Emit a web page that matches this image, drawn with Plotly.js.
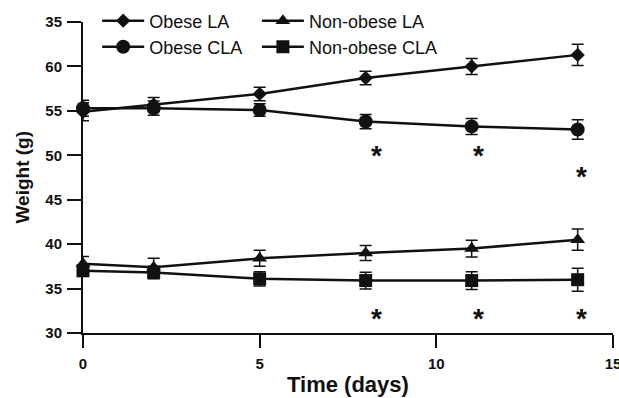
<!DOCTYPE html>
<html>
<head>
<meta charset="utf-8">
<script src="https://cdn.plot.ly/plotly-3.0.1.min.js"></script>
<style>html,body{margin:0;padding:0;background:#fff;}#chart{width:619px;height:398px;}</style>
</head>
<body>
<div id="chart"></div>
<script>
// ---- data ----
const days = [0, 2, 5, 8, 11, 14];

const obeseLA     = [54.9, 55.7, 56.9, 58.7, 60.0, 61.3];
const obeseLAErr  = [1.0, 0.8, 0.75, 0.75, 0.9, 1.2];

const obeseCLA    = [55.3, 55.3, 55.1, 53.8, 53.25, 52.9];
const obeseCLAErr = [0.9, 0.8, 0.7, 0.8, 0.9, 1.1];

const nonObeseLA    = [37.8, 37.4, 38.4, 39.0, 39.5, 40.5];
const nonObeseLAErr = [0.8, 1.0, 0.9, 0.85, 0.95, 1.2];

const nonObeseCLA    = [37.0, 36.8, 36.1, 35.9, 35.9, 36.0];
const nonObeseCLAErr = [0.6, 0.7, 0.8, 0.95, 1.0, 1.3];

const starX = [8.3, 11.2, 14.1, 8.3, 11.2, 14.1];
const starY = [50.4, 50.4, 48.1, 32.1, 32.1, 32.1];

const yTickVals = [30, 35, 40, 45, 50, 55, 60, 65];
const yTickText = ['30', '35', '40', '45', '50', '55', '60', '35'];
const xTickVals = [0, 5, 10, 15];
const xTickText = ['0', '5', '10', '15'];

const names = ['Obese LA', 'Obese CLA', 'Non-obese LA', 'Non-obese CLA'];
const xTitle = 'Time (days)';
const yTitle = 'Weight (g)';
// --------------------------------------

const INK = '#111111';
const FONT = 'Liberation Sans, Arial, sans-serif';
function series(name, y, err, symbol, size, legend) {
  return {
    type: 'scatter', mode: 'lines+markers', name: name, x: days, y: y,
    legend: legend,
    line: {color: INK, width: 2.5},
    marker: {symbol: symbol, size: size, color: INK},
    error_y: {type: 'data', array: err, visible: true, color: INK, thickness: 1.5, width: 6},
    cliponaxis: false
  };
}

const traces = [
  series(names[0], obeseLA, obeseLAErr, 'diamond', 11, 'legend'),
  series(names[1], obeseCLA, obeseCLAErr, 'circle', 14, 'legend2'),
  series(names[2], nonObeseLA, nonObeseLAErr, 'triangle-up', 13, 'legend3'),
  series(names[3], nonObeseCLA, nonObeseCLAErr, 'square', 13, 'legend4')
];

const starNotes = starX.map((x, i) => ({
  x: x, y: starY[i], xref: 'x', yref: 'y', text: '<b>*</b>', showarrow: false,
  font: {family: FONT, size: 28, color: INK}, yshift: -4
}));

const legFont = {family: FONT, size: 18, color: INK};
function leg(x, y) {
  return {x: x, y: y, xref: 'container', yref: 'container', xanchor: 'left', yanchor: 'middle',
          bgcolor: 'rgba(0,0,0,0)', borderwidth: 0, font: legFont, itemwidth: 42};
}

const layout = {
  width: 619, height: 398,
  margin: {l: 83, r: 6, t: 22, b: 65, autoexpand: false},
  paper_bgcolor: '#fff', plot_bgcolor: '#fff',
  font: {family: FONT, color: INK},
  xaxis: {
    range: [0, 15], tickvals: xTickVals, ticktext: xTickText,
    showgrid: false, zeroline: false, showline: true, linecolor: INK, linewidth: 2,
    ticks: 'outside', ticklen: 13, tickwidth: 2, tickcolor: INK, automargin: false,
    ticklabelstandoff: 3, ticklabeloverflow: 'allow',
    tickfont: {family: FONT, size: 15, color: INK, weight: 'bold'}
  },
  yaxis: {
    range: [30, 65], tickvals: yTickVals, ticktext: yTickText,
    showgrid: false, zeroline: false, showline: true, linecolor: INK, linewidth: 2,
    ticks: 'outside', ticklen: 14, tickwidth: 2, tickcolor: INK, automargin: false,
    ticklabelstandoff: 2,
    tickfont: {family: FONT, size: 15, color: INK, weight: 'bold'}
  },
  annotations: starNotes.concat([
    {x: 0.5, y: 0, xref: 'paper', yref: 'paper', xanchor: 'center', yanchor: 'middle', yshift: -51,
     text: '<b>' + xTitle + '</b>', showarrow: false, font: {family: FONT, size: 22, color: INK}},
    {x: 0, y: 0.5, xref: 'paper', yref: 'paper', xanchor: 'center', yanchor: 'middle', xshift: -61,
     textangle: -90, text: '<b>' + yTitle + '</b>', showarrow: false, font: {family: FONT, size: 19, color: INK}}
  ]),
  legend: leg(0.157, 1 - 21/398),
  legend2: leg(0.157, 1 - 47/398),
  legend3: leg(0.415, 1 - 21/398),
  legend4: leg(0.415, 1 - 47/398),
  showlegend: true
};

Plotly.newPlot('chart', traces, layout, {displayModeBar: false, staticPlot: true});
</script>
</body>
</html>
